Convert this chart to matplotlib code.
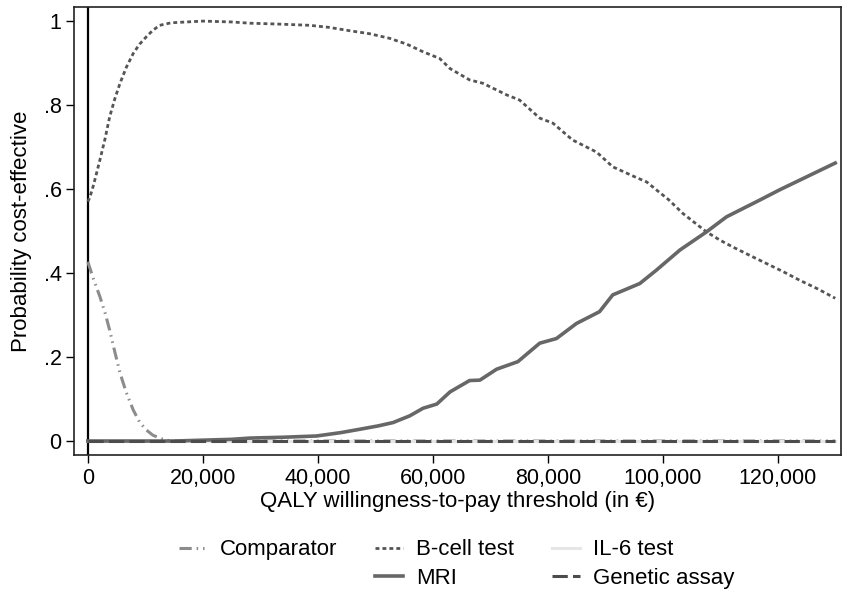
import matplotlib.pyplot as plt
from matplotlib.lines import Line2D

plt.rcParams['font.family'] = ['Liberation Sans', 'DejaVu Sans']

# ============================
# DATA
# ============================

comp_x = [0, 1000, 2100, 3000, 3800, 4700, 5600, 6700, 7900, 9000, 10200,
          11300, 12500, 13500, 15000, 130000]
comp_y = [0.427, 0.385, 0.344, 0.305, 0.264, 0.212, 0.162, 0.115, 0.074,
          0.045, 0.026, 0.014, 0.007, 0.002, 0.0, 0.0]

bcell_x = [0, 350, 1000, 2100, 3000, 3800, 4700, 5600, 6700, 7900, 9000,
           10200, 11300, 12500, 14500, 17200, 20000, 25000, 28200, 33000,
           38600, 42000, 45600, 49000, 52500, 55500, 58300, 61200, 63000,
           66400, 68700, 72900, 75100, 78600, 80900, 84300, 88500, 91300,
           95000, 97200, 98900, 101000, 103500, 107600, 110000, 112200,
           115000, 118000, 121000, 123800, 127000, 130000]
bcell_y = [0.57, 0.58, 0.61, 0.669, 0.72, 0.772, 0.815, 0.852, 0.89, 0.923,
           0.945, 0.963, 0.978, 0.99, 0.996, 0.998, 1.0, 0.998, 0.995, 0.993,
           0.99, 0.985, 0.977, 0.97, 0.959, 0.945, 0.927, 0.911, 0.887,
           0.86, 0.852, 0.824, 0.812, 0.769, 0.757, 0.717, 0.688, 0.653,
           0.63, 0.617, 0.598, 0.575, 0.542, 0.498, 0.478, 0.462, 0.443,
           0.423, 0.403, 0.383, 0.362, 0.34]

il6_x = [0, 130000]
il6_y = [0.0, 0.0]

mri_x = [0, 15000, 20000, 25000, 28200, 34000, 39800, 44000, 47300, 50500,
         53100, 56000, 58300, 60700, 63000, 66400, 68200, 71100, 74800,
         78600, 81500, 85000, 89000, 91300, 96000, 98900, 103000, 107600,
         111100, 116900, 120300, 125000, 130000]
mri_y = [0.0, 0.0, 0.002, 0.004, 0.007, 0.009, 0.012, 0.02, 0.028, 0.036,
         0.044, 0.06, 0.078, 0.088, 0.117, 0.144, 0.145, 0.171, 0.189,
         0.233, 0.244, 0.28, 0.308, 0.348, 0.375, 0.407, 0.455, 0.498,
         0.534, 0.574, 0.598, 0.629, 0.662]

gen_x = [0, 130000]
gen_y = [0.0, 0.0]

x_ticks = [0, 20000, 40000, 60000, 80000, 100000, 120000]
x_labels = ["0", "20,000", "40,000", "60,000", "80,000", "100,000", "120,000"]
y_ticks = [0, 0.2, 0.4, 0.6, 0.8, 1.0]
y_labels = ["0", ".2", ".4", ".6", ".8", "1"]

# ============================
# PLOT
# ============================

fig = plt.figure(figsize=(8.43, 5.94), dpi=100)
ax = fig.add_axes([0.0878, 0.234, 0.9098, 0.754])

ax.axvline(0, color="black", lw=1.6, zorder=1)

l_comp, = ax.plot(comp_x, comp_y, color="#8c8c8c", lw=2.2,
                  linestyle=(0, (4, 1.6, 0.5, 1.6, 0.5, 1.6)), label="Comparator")
l_bcell, = ax.plot(bcell_x, bcell_y, color="#555555", lw=2.0,
                   linestyle=(0, (1.4, 1.1)), label="B-cell test")
l_il6, = ax.plot(il6_x, il6_y, color="#e6e6e6", lw=2.2, label="IL-6 test")
l_mri, = ax.plot(mri_x, mri_y, color="#676767", lw=2.6, label="MRI")
l_gen, = ax.plot(gen_x, gen_y, color="#4c4c4c", lw=2.2,
                 linestyle=(0, (5.0, 1.7)), label="Genetic assay")

ax.set_xlim(-2400, 131000)
ax.set_ylim(-0.0333, 1.0333)

ax.set_xticks(x_ticks)
ax.set_xticklabels(x_labels)
ax.set_yticks(y_ticks)
ax.set_yticklabels(y_labels)
ax.tick_params(axis="both", direction="out", length=6, width=1.0,
               labelsize=15.5, colors="black", pad=3)

for s in ax.spines.values():
    s.set_linewidth(1.2)
    s.set_color("#222222")

ax.set_xlabel("QALY willingness-to-pay threshold (in €)", fontsize=16, labelpad=2)
ax.set_ylabel("Probability cost-effective", fontsize=16, labelpad=8)

# legend: three columns, blank slot under Comparator
blank = Line2D([], [], color="none")
handles = [l_comp, blank, l_bcell, l_mri, l_il6, l_gen]
labels = ["Comparator", "", "B-cell test", "MRI", "IL-6 test", "Genetic assay"]
fig.legend(handles, labels, ncol=3, loc="center", bbox_to_anchor=(0.5415, 0.05),
           frameon=False, fontsize=16, handlelength=1.25, handletextpad=0.6,
           columnspacing=1.7, labelspacing=0.35, borderpad=0.2)

plt.savefig("out.png", dpi=100)
